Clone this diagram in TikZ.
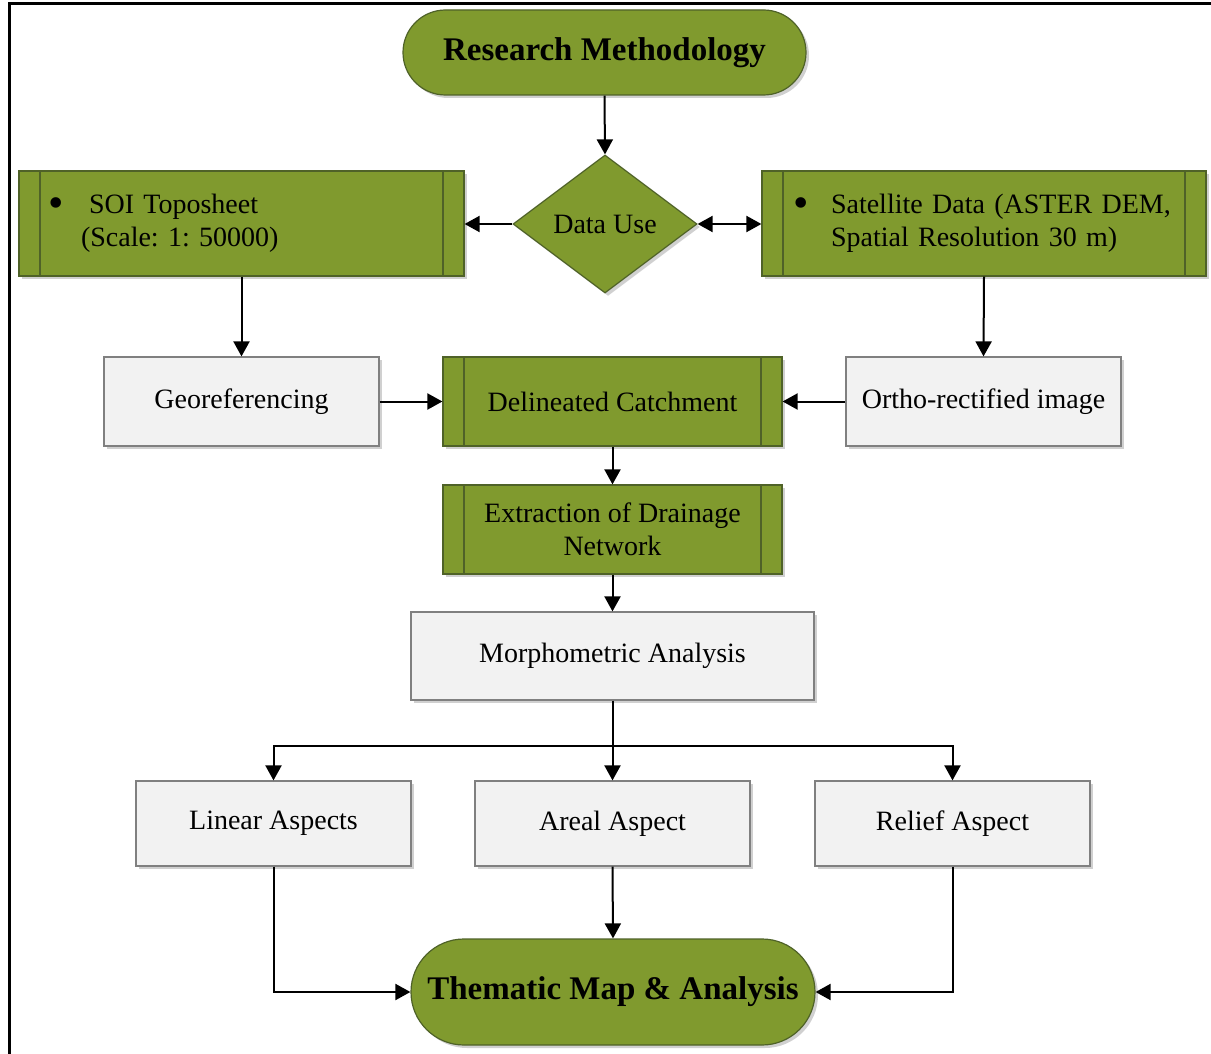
\documentclass[tikz,border=0pt]{standalone}
\usepackage{fontspec}
\setmainfont{Liberation Serif}
\usetikzlibrary{shapes.geometric,shapes.misc,arrows.meta,shadows,calc}
\definecolor{olivefill}{RGB}{128,154,46}
\definecolor{olivedraw}{RGB}{79,98,40}
\definecolor{greyfill}{RGB}{242,242,242}
\definecolor{greydraw}{RGB}{128,128,128}
\newcommand{\bigbul}{{\fontsize{44}{33}\selectfont\raisebox{-4pt}{\textbullet}}}
\tikzset{
  shade3/.style={drop shadow={shadow xshift=3pt,shadow yshift=-3pt,opacity=0.3,fill=black!60}},
  bodytext/.style={font=\fontsize{28}{33}\selectfont\frenchspacing},
  titletext/.style={font=\fontsize{33}{38}\selectfont\bfseries},
  terminal/.style={rounded rectangle, draw=olivedraw, line width=1.2pt, fill=olivefill, shade3, titletext, inner sep=0pt},
  decision/.style={diamond, draw=olivedraw, line width=1.2pt, fill=olivefill, shade3, bodytext, inner sep=0pt, minimum width=184pt, minimum height=138pt},
  procbox/.style={rectangle, draw=olivedraw, line width=1.2pt, fill=olivefill, shade3, bodytext, inner sep=0pt, align=center,
    path picture={
      \draw[olivedraw, line width=1.2pt] ([xshift=21pt]path picture bounding box.north west) -- ([xshift=21pt]path picture bounding box.south west);
      \draw[olivedraw, line width=1.2pt] ([xshift=-21pt]path picture bounding box.north east) -- ([xshift=-21pt]path picture bounding box.south east);
    }},
  greybox/.style={rectangle, draw=greydraw, line width=1.2pt, fill=greyfill, shade3, bodytext, inner sep=0pt, align=center},
  arr/.style={line width=2pt, -{Triangle[length=15pt,width=16pt]}},
  darr/.style={line width=2pt, {Triangle[length=15pt,width=16pt]}-{Triangle[length=15pt,width=16pt]}}
}
\begin{document}
\begin{tikzpicture}[x=1pt,y=-1pt]
\useasboundingbox (0,0) rectangle (1211,1054);
\fill[white] (0,0) rectangle (1211,1054);
\draw[line width=3pt] (9,1054) -- (9,4) -- (1211,4);

\node[terminal, minimum width=403pt, minimum height=85pt] (research) at (604.5,52.5) {Research Methodology};
\node[decision] (data) at (605,224) {Data Use};

\node[procbox, minimum width=445pt, minimum height=105pt, text width=387pt, align=left] (soi) at (241.5,223.5)
  {\mbox{\makebox[41pt][l]{\bigbul}SOI Toposheet}\\\mbox{\hspace*{33pt}(Scale: 1: 50000)}\\[-6pt]};
\node[procbox, minimum width=444pt, minimum height=105pt, text width=382pt, align=left] (sat) at (984,223.5)
  {\mbox{\makebox[38pt][l]{\bigbul}Satellite Data (ASTER DEM,}\\\mbox{\hspace*{38pt}Spatial Resolution 30 m)}\\[-6pt]};

\node[greybox, minimum width=275pt, minimum height=89pt] (geo) at (241.5,401.5) {Georeferencing};
\node[procbox, minimum width=339pt, minimum height=89pt] (delin) at (612.5,401.5) {Delineated Catchment};
\node[greybox, minimum width=275pt, minimum height=89pt] (ortho) at (983.5,401.5) {Ortho-rectified image};

\node[procbox, minimum width=339pt, minimum height=89pt] (extr) at (612.5,529.5) {Extraction of Drainage\\Network};
\node[greybox, minimum width=403pt, minimum height=88pt] (morph) at (612.5,656) {Morphometric Analysis};

\node[greybox, minimum width=275pt, minimum height=85pt] (linear) at (273.5,823.5) {Linear Aspects};
\node[greybox, minimum width=275pt, minimum height=85pt] (areal) at (612.5,823.5) {Areal Aspect};
\node[greybox, minimum width=275pt, minimum height=85pt] (relief) at (952.5,823.5) {Relief Aspect};

\node[terminal, minimum width=404pt, minimum height=106pt] (them) at (613,992) {Thematic Map \& Analysis};

\coordinate (junc) at (612.5,746);

\draw[arr] (research.south) -- (data.north);
\draw[arr] (data.west) -- (data.west -| soi.east);
\draw[darr] (data.east) -- (data.east -| sat.west);
\draw[arr] (soi.south) -- (geo.north);
\draw[arr] (sat.south) -- (ortho.north);
\draw[arr] (geo.east) -- (delin.west);
\draw[arr] (ortho.west) -- (delin.east);
\draw[arr] (delin.south) -- (extr.north);
\draw[arr] (extr.south) -- (morph.north);
\draw[arr] (morph.south) -- (areal.north);
\draw[arr] (junc) -| (linear.north);
\draw[arr] (junc) -| (relief.north);
\draw[arr] (areal.south) -- (them.north);
\draw[arr] (linear.south) |- (them.west);
\draw[arr] (relief.south) |- (them.east);
\end{tikzpicture}
\end{document}
